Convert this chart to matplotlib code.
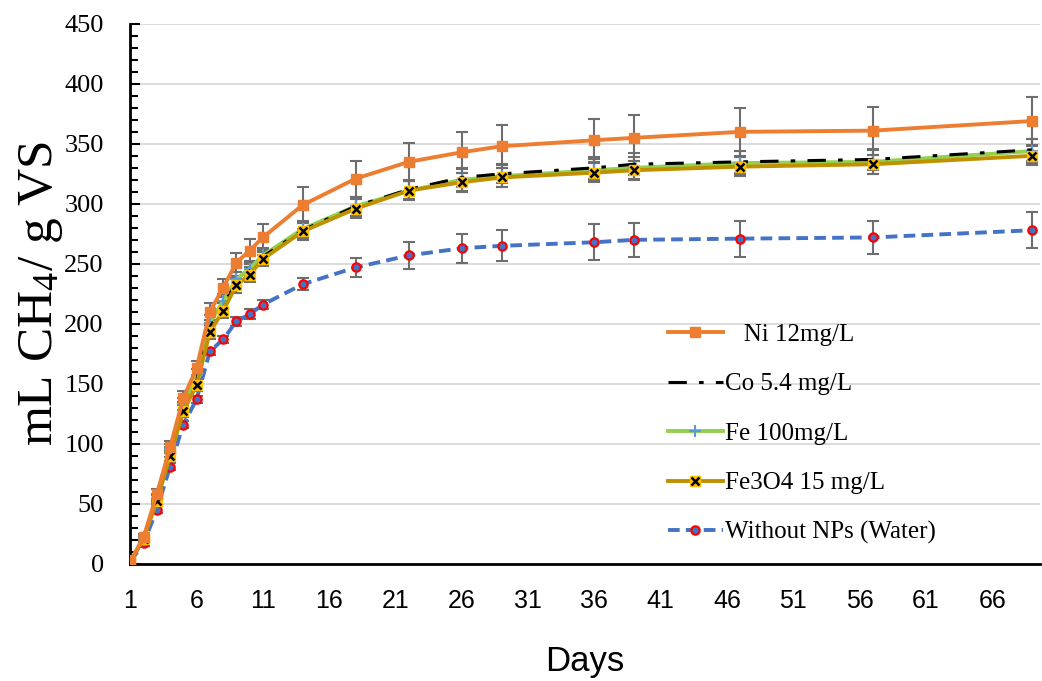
import numpy as np
import matplotlib
matplotlib.use('Agg')
import matplotlib.pyplot as plt
from matplotlib.legend_handler import HandlerTuple

# data (days, mL CH4 / g VS)
days = [1, 2, 3, 4, 5, 6, 7, 8, 9, 10, 11, 14, 18, 22, 26, 29, 36, 39, 47, 57, 69]

ni = [2, 22, 58, 97, 138, 163, 210, 230, 251, 261, 272, 299, 321, 335, 343, 348, 353, 355, 360, 361, 369]
ni_err = [1, 3, 4, 5, 6, 6, 7, 7, 8, 10, 11, 15, 15, 16, 17, 18, 18, 19, 20, 20, 20]

co = [2, 20, 54, 93, 130, 152, 197, 216, 234, 244, 256, 278, 298, 312, 322, 325, 330, 333, 335, 337, 345]
co_err = [1, 2, 3, 4, 5, 5, 6, 6, 6, 6, 6, 7, 8, 8, 8, 8, 9, 9, 9, 9, 9]

fe = [2, 21, 55, 96, 133, 157, 201, 219, 237, 246, 257, 279, 298, 311, 320, 323, 328, 330, 334, 335, 344]
fe_err = [1, 2, 3, 4, 5, 5, 6, 6, 6, 6, 6, 7, 8, 8, 9, 9, 9, 9, 10, 10, 10]

fe3o4 = [2, 21, 52, 90, 127, 149, 193, 211, 232, 241, 254, 277, 296, 311, 318, 322, 326, 328, 331, 333, 340]
fe3o4_err = [1, 2, 3, 4, 5, 5, 6, 6, 6, 6, 6, 7, 8, 8, 8, 8, 8, 8, 8, 8, 8]

water = [2, 17, 45, 81, 116, 137, 177, 187, 202, 208, 216, 233, 247, 257, 263, 265, 268, 270, 271, 272, 278]
water_err = [1, 2, 3, 3, 3, 3, 3, 3, 4, 4, 4, 5, 8, 11, 12, 13, 15, 14, 15, 14, 15]

labels = ['   Ni 12mg/L', 'Co 5.4 mg/L', 'Fe 100mg/L', 'Fe3O4 15 mg/L', 'Without NPs (Water)']
xticks = [1, 6, 11, 16, 21, 26, 31, 36, 41, 46, 51, 56, 61, 66]

plt.rcParams['mathtext.default'] = 'regular'

fig = plt.figure(figsize=(10.42, 6.81), dpi=100)
ax = fig.add_axes([0.125, 0.172, 0.873, 0.793])

err_kw = dict(ecolor='#6E6E6E', elinewidth=1.5, capsize=4, capthick=1.5, linestyle='none')

# error bars first so lines sit on top
for y, e in [(water, water_err), (fe3o4, fe3o4_err), (fe, fe_err), (co, co_err), (ni, ni_err)]:
    ax.errorbar(days, y, yerr=e, fmt='none', zorder=2, **err_kw)

h_water, = ax.plot(days, water, color='#4472C4', lw=2.8, ls=(0, (3, 1.6)),
                   marker='o', ms=6, mfc='#4472C4', mec='#FF0000', mew=1.6, zorder=3)
h_fe3o4, = ax.plot(days, fe3o4, color='#BF9000', lw=2.8, zorder=4,
                   marker='s', ms=7.5, mfc='#FFC000', mec='#FFC000')
h_fe3o4x, = ax.plot(days, fe3o4, ls='none', marker='x', ms=6, mec='black', mew=1.8, zorder=4.1)
h_fe, = ax.plot(days, fe, color='#92D050', lw=2.8, marker='+', ms=8, mec='#5B9BD5', mew=1.5, zorder=3.5)
h_co, = ax.plot(days, co, color='black', lw=2.2, ls=(0, (6, 4, 1.5, 4)), zorder=3.6)
h_ni, = ax.plot(days, ni, color='#ED7D31', lw=2.8, marker='s', ms=6.5, mfc='#ED7D31', mec='#ED7D31', zorder=5)

ax.set_xlim(1, 69.6)
ax.set_ylim(0, 450)
ax.set_yticks(np.arange(0, 451, 50))
ax.set_yticks(np.arange(0, 451, 10), minor=True)
ax.set_xticks(xticks)
ax.yaxis.grid(True, color='#D9D9D9', lw=1.3)
ax.set_axisbelow(True)

for s in ['top', 'right']:
    ax.spines[s].set_visible(False)
ax.spines['left'].set_linewidth(2)
ax.spines['bottom'].set_linewidth(2)

ax.tick_params(axis='y', which='major', direction='in', length=7, width=1.5, pad=19)
ax.tick_params(axis='y', which='minor', direction='in', length=6, width=1.5)
ax.tick_params(axis='x', length=0, pad=18)

for t in ax.get_yticklabels():
    t.set_fontfamily('Liberation Serif')
    t.set_fontsize(19)
for t in ax.get_xticklabels():
    t.set_fontfamily('Liberation Sans')
    t.set_fontsize(18)

ax.set_xlabel('Days', fontsize=25, family='Liberation Sans', labelpad=23)
ax.set_ylabel('mL CH$_4$/ g VS', fontsize=37, family='Liberation Serif')
ax.yaxis.set_label_coords(-0.072, 0.5)

leg = ax.legend([h_ni, h_co, h_fe, (h_fe3o4, h_fe3o4x), h_water], labels,
                handler_map={tuple: HandlerTuple(ndivide=1)},
                loc='upper left', bbox_to_anchor=(0.58, 0.464), frameon=False,
                prop={'family': 'Liberation Serif', 'size': 18},
                handlelength=2.2, handletextpad=0.1, labelspacing=1.08, borderaxespad=0)

fig.savefig('out.png', dpi=100)
